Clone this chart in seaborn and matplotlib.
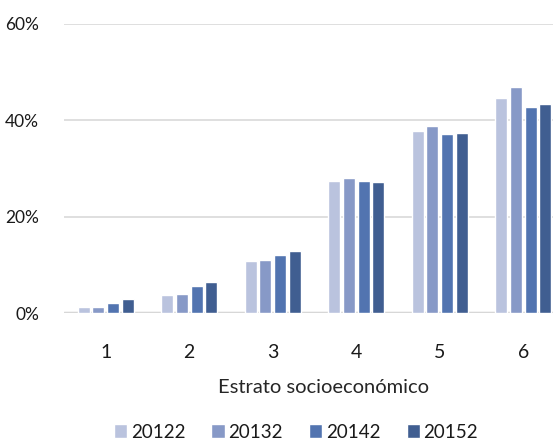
import pandas as pd
import seaborn as sns
import matplotlib.pyplot as plt
from matplotlib.ticker import FuncFormatter

# ------------------------------
# data
# ------------------------------
estratos = ["1", "2", "3", "4", "5", "6"]
periodos = ["20122", "20132", "20142", "20152"]
p20122 = [1.3, 3.7, 10.8, 27.5, 37.7, 44.6]
p20132 = [1.3, 3.9, 10.9, 28.0, 38.8, 46.9]
p20142 = [2.1, 5.7, 12.0, 27.5, 37.2, 42.7]
p20152 = [2.9, 6.4, 12.9, 27.2, 37.3, 43.3]

colores = ["#B4C0E4", "#7C94D2", "#4270C0", "#335A9E"]

rows = []
for periodo, vals in zip(periodos, [p20122, p20132, p20142, p20152]):
    for e, v in zip(estratos, vals):
        rows.append({"estrato": e, "periodo": periodo, "valor": v})
df = pd.DataFrame(rows)

# ------------------------------
# style
# ------------------------------
sns.set_style("white")
plt.rcParams['font.family'] = ['Lato', 'DejaVu Sans']
plt.rcParams['text.color'] = '#1A1A1A'

fig = plt.figure(figsize=(5.53, 4.43), dpi=100)
ax = fig.add_axes([64/553, 1 - 313/443, (565 - 64)/553, (313 - 24)/443])

sns.barplot(data=df, x="estrato", y="valor", hue="periodo",
            hue_order=periodos, order=estratos, palette=colores,
            width=0.7, gap=0.18, ax=ax)

ax.set_ylim(0, 60)
ax.set_xlim(-0.5, 5.5)
ax.set_yticks([0, 20, 40, 60])
ax.yaxis.set_major_formatter(FuncFormatter(lambda v, _: f"{v:.0f}%"))
ax.grid(axis='y', color='#D9D9D9', linewidth=1.2)
ax.set_axisbelow(True)
ax.axhline(0, color='#D0D0D0', linewidth=2.5, zorder=0.5)
for s in ax.spines.values():
    s.set_visible(False)

ax.tick_params(axis='y', length=0, pad=18, labelsize=12.5, labelcolor='#1A1A1A')
ax.tick_params(axis='x', length=0, pad=22, labelsize=14, labelcolor='#1A1A1A')
ax.set_ylabel("")
ax.set_xlabel("Estrato socioeconómico", fontsize=14.5, labelpad=13)
ax.xaxis.label.set_x((323 - 64) / (565 - 64))

handles, labels = ax.get_legend_handles_labels()
ax.get_legend().remove()
fig.legend(handles, labels, ncol=4, frameon=False, loc='center',
           bbox_to_anchor=(296/553, 1 - 432/443), fontsize=13.5,
           handlelength=0.7, handleheight=0.7, handletextpad=0.2,
           columnspacing=1.4)

fig.savefig("out.png", dpi=100)
